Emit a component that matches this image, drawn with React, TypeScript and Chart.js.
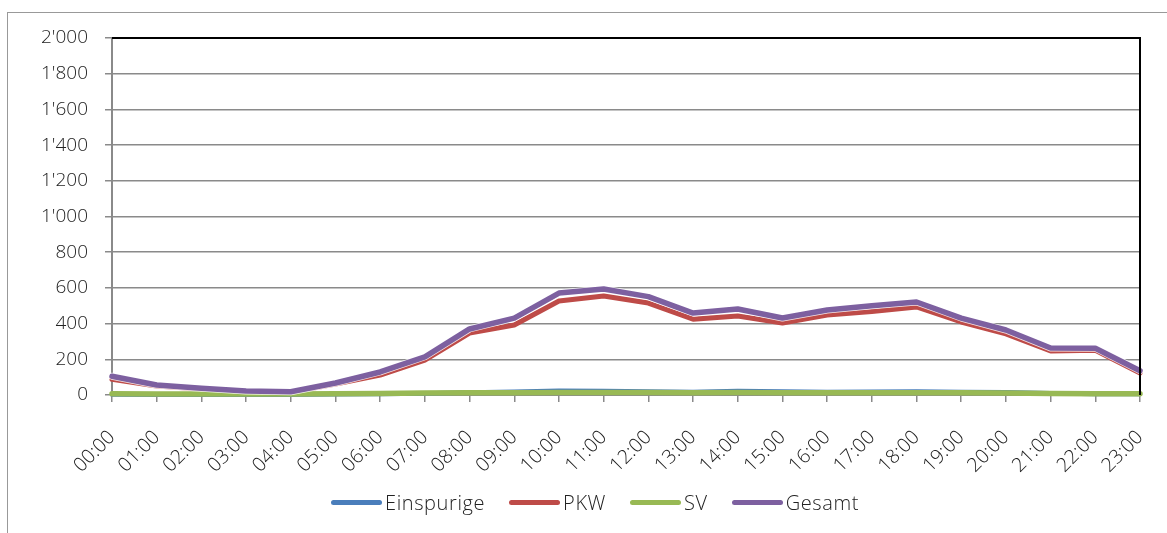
import React, { useEffect, useRef } from "react";
import { Chart, registerables } from "chart.js";

Chart.register(...registerables);

const hours: string[] = [
  "00:00", "01:00", "02:00", "03:00", "04:00", "05:00", "06:00", "07:00",
  "08:00", "09:00", "10:00", "11:00", "12:00", "13:00", "14:00", "15:00",
  "16:00", "17:00", "18:00", "19:00", "20:00", "21:00", "22:00", "23:00",
];
const einspurige: number[] = [3, 2, 2, 1, 1, 4, 6, 9, 14, 18, 24, 22, 19, 17, 22, 20, 17, 18, 20, 17, 16, 10, 6, 5];
const pkw: number[] = [88, 50, 34, 19, 15, 62, 112, 196, 347, 392, 527, 555, 515, 425, 443, 403, 448, 468, 493, 409, 342, 247, 250, 123];
const sv: number[] = [7, 6, 6, 5, 6, 7, 9, 11, 12, 13, 14, 14, 14, 13, 14, 13, 13, 13, 13, 12, 11, 9, 7, 7];
const gesamt: number[] = [105, 56, 38, 22, 18, 67, 129, 214, 370, 431, 571, 594, 551, 459, 482, 431, 476, 500, 521, 431, 364, 263, 262, 136];
const yTicks: number[] = [0, 200, 400, 600, 800, 1000, 1200, 1400, 1600, 1800, 2000];

const COLORS = {
  einspurige: "#4A7EBB",
  pkw: "#BE4B48",
  sv: "#98B954",
  gesamt: "#7D60A0",
};
const FONT = "'Open Sans', 'DejaVu Sans', sans-serif";
const GRID = "#8a8a8a";

const fmt = (v: number) => {
  const s = Math.round(v).toString();
  return s.replace(/\B(?=(\d{3})+(?!\d))/g, "'");
};

const borderPlugin = {
  id: "plotBorder",
  beforeDatasetDraw(chart: any, args: any) {
    const ds = chart.data.datasets[args.index];
    if (ds.label !== "Gesamt") return;
    const pts = args.meta.data;
    if (!pts || !pts.length) return;
    const ctx = chart.ctx;
    ctx.save();
    ctx.strokeStyle = "rgba(255,255,255,0.85)";
    ctx.lineWidth = (ds.borderWidth || 3) + 1.5;
    ctx.lineJoin = "round";
    ctx.lineCap = "round";
    ctx.beginPath();
    pts.forEach((p: any, i: number) => {
      if (i === 0) ctx.moveTo(p.x, p.y);
      else ctx.lineTo(p.x, p.y);
    });
    ctx.stroke();
    ctx.restore();
  },
  afterDraw(chart: any) {
    const { ctx, chartArea } = chart;
    ctx.save();
    ctx.strokeStyle = "#000";
    ctx.lineWidth = 2;
    ctx.beginPath();
    ctx.moveTo(chartArea.left, chartArea.top);
    ctx.lineTo(chartArea.right, chartArea.top);
    ctx.lineTo(chartArea.right, chartArea.bottom);
    ctx.stroke();
    ctx.restore();
  },
};

export default function App() {
  const ref = useRef<HTMLCanvasElement | null>(null);

  useEffect(() => {
    if (!ref.current) return;
    const mk = (label: string, data: number[], color: string, order: number, w: number) => ({
      label,
      data,
      borderColor: color,
      backgroundColor: color,
      borderWidth: w,
      pointRadius: 0,
      tension: 0,
      order,
      clip: false as any,
      borderCapStyle: "round" as const,
      borderJoinStyle: "round" as const,
    });
    const chart = new Chart(ref.current, {
      type: "line",
      data: {
        labels: hours,
        datasets: [
          mk("Einspurige", einspurige, COLORS.einspurige, 4, 4.5),
          mk("PKW", pkw, COLORS.pkw, 3, 5),
          mk("SV", sv, COLORS.sv, 2, 5.5),
          mk("Gesamt", gesamt, COLORS.gesamt, 1, 5.5),
        ],
      },
      options: {
        animation: false,
        responsive: false,
        maintainAspectRatio: false,
        layout: { padding: { left: 0, right: 27, top: 38, bottom: 0 } },
        plugins: {
          legend: { display: false },
          tooltip: { enabled: false },
        },
        scales: {
          x: {
            offset: false,
            afterFit: (s: any) => {
              s.height = 138;
              s.paddingLeft = 0;
              s.paddingRight = 0;
            },
            grid: {
              drawOnChartArea: false,
              drawTicks: true,
              tickLength: 7,
              color: GRID,
              lineWidth: 1.5,
            },
            border: { color: GRID, width: 2, z: -1 },
            ticks: {
              autoSkip: false,
              maxRotation: 45,
              minRotation: 45,
              padding: 24,
              color: "#222",
              font: { family: FONT, size: 19.5, weight: "300" as any },
            },
          },
          y: {
            min: 0,
            max: 2000,
            afterFit: (s: any) => {
              s.width = 112;
            },
            afterBuildTicks: (s: any) => {
              s.ticks = yTicks.map((v) => ({ value: v }));
            },
            grid: {
              color: GRID,
              lineWidth: 1.5,
              tickLength: 7,
              drawTicks: true,
            },
            border: { color: GRID, width: 2, z: -1 },
            ticks: {
              padding: 17,
              color: "#222",
              font: { family: FONT, size: 19, weight: "300" as any },
              callback: (v: any) => fmt(Number(v)),
            },
          },
        },
      },
      plugins: [borderPlugin],
    });
    return () => chart.destroy();
  }, []);

  const legendItems = [
    { label: "Einspurige", color: COLORS.einspurige },
    { label: "PKW", color: COLORS.pkw },
    { label: "SV", color: COLORS.sv },
    { label: "Gesamt", color: COLORS.gesamt },
  ];

  return (
    <div
      style={{
        position: "fixed",
        left: 0,
        top: 0,
        width: 1167,
        height: 533,
        overflow: "hidden",
        background: "#fff",
      }}
    >
      <div
        style={{
          position: "absolute",
          left: 7,
          top: 12,
          width: 1300,
          height: 700,
          border: "1px solid #999",
        }}
      />
      <canvas
        ref={ref}
        width={1167}
        height={533}
        style={{ position: "absolute", left: 0, top: 0, width: 1167, height: 533 }}
      />
      <div
        style={{
          position: "absolute",
          left: 331,
          top: 488,
          height: 28,
          display: "flex",
          alignItems: "center",
          fontFamily: FONT,
          fontWeight: 300,
          fontSize: 20,
          letterSpacing: "0.6px",
          color: "#222",
          whiteSpace: "nowrap",
        }}
      >
        {legendItems.map((it, i) => (
          <div
            key={it.label}
            style={{ display: "flex", alignItems: "center", marginRight: i < legendItems.length - 1 ? 24 : 0 }}
          >
            <span
              style={{
                display: "inline-block",
                width: 51,
                height: 5,
                borderRadius: 3,
                background: it.color,
                marginRight: 3,
              }}
            />
            <span>{it.label}</span>
          </div>
        ))}
      </div>
    </div>
  );
}
